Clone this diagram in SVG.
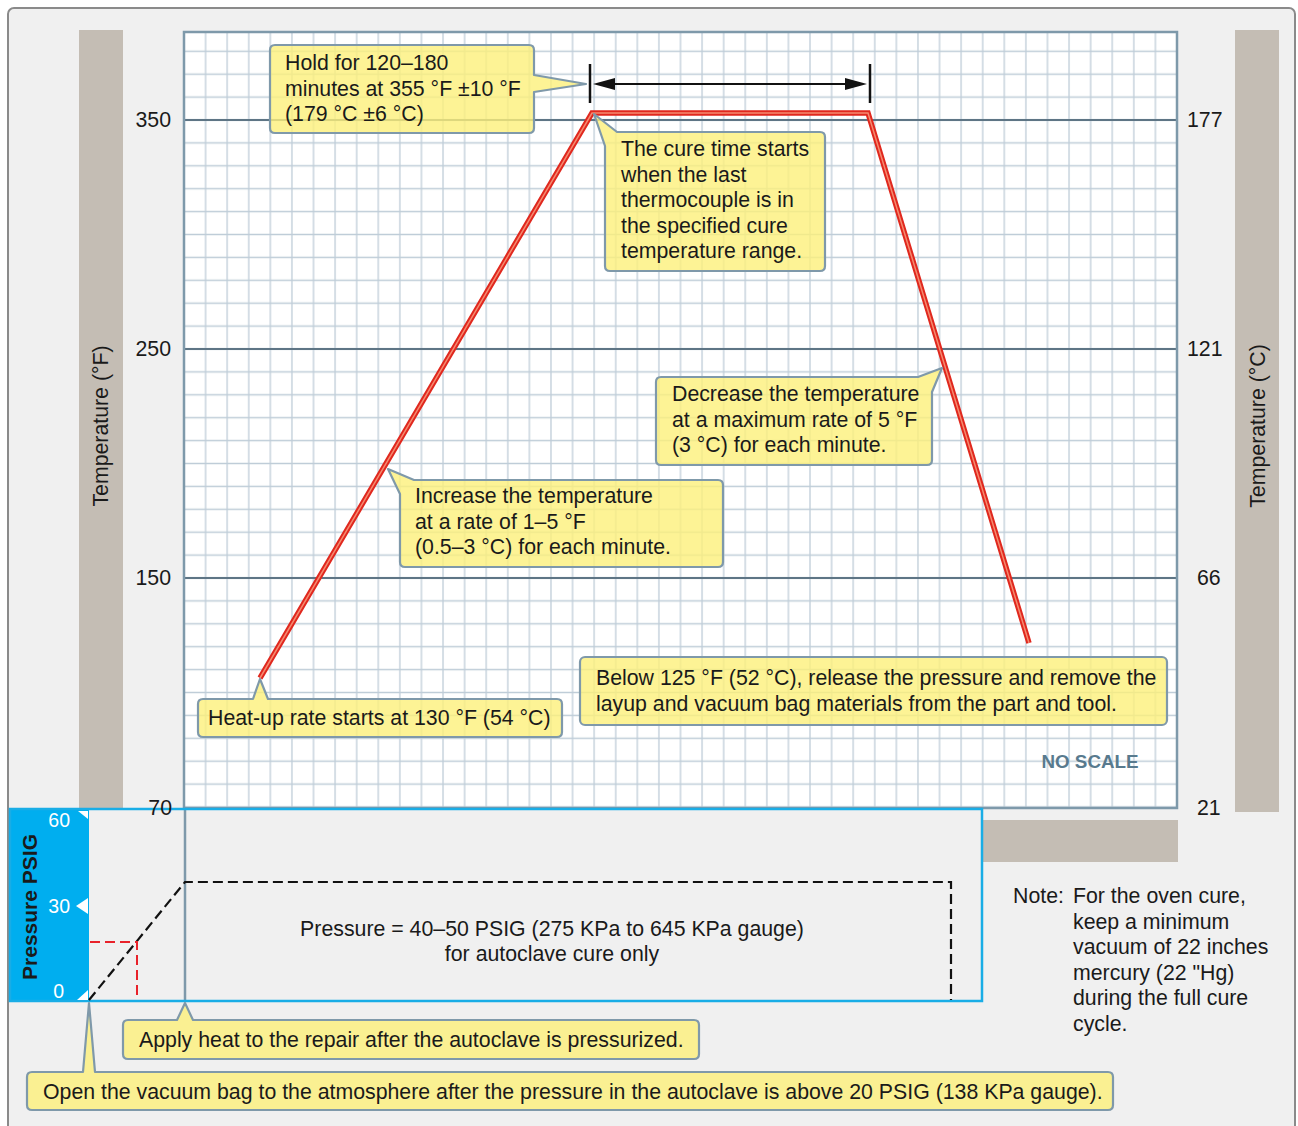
<svg xmlns="http://www.w3.org/2000/svg" width="1298" height="1126" viewBox="0 0 1298 1126">
<style>
text{font-family:"Liberation Sans",Arial,sans-serif;fill:#1a1a1a}
.lbl{font-size:21.3px}
.ct{font-size:21.3px}
.call{fill:#fdf07a;fill-opacity:0.8;stroke:#7f99aa;stroke-width:2.2;stroke-linejoin:round}
.major{stroke:#5e7585;stroke-width:2.2}
.pw{fill:#fff}
</style>
<defs>
<pattern id="grid" patternUnits="userSpaceOnUse" x="173.2065" y="16.95" width="21.587" height="22.9">
<path d="M10.79 0V22.9M0 11.45H21.587" stroke="#bfcdd8" stroke-width="1.3" fill="none"/>
</pattern>
</defs>
<rect x="0" y="0" width="1298" height="1126" fill="#fff"/>
<rect x="8" y="8" width="1287" height="1125" rx="6" fill="#f0f0f0" stroke="#8a8a8a" stroke-width="2"/>

<g id="left-axis">
<rect x="79" y="30" width="44" height="779" fill="#c4bdb4"/>
<text class="lbl" transform="translate(108 426) rotate(-90)" text-anchor="middle">Temperature (°F)</text>
<text class="lbl" x="171" y="127" text-anchor="end">350</text>
<text class="lbl" x="171" y="356" text-anchor="end">250</text>
<text class="lbl" x="171" y="585" text-anchor="end">150</text>
</g>
<g id="right-axis">
<rect x="1235" y="30" width="44" height="782" fill="#c4bdb4"/>
<text class="lbl" transform="translate(1265 426) rotate(-90)" text-anchor="middle">Temperature (°C)</text>
<text class="lbl" x="1187" y="127">177</text>
<text class="lbl" x="1187" y="356">121</text>
<text class="lbl" x="1197" y="585">66</text>
<text class="lbl" x="1197" y="815">21</text>
</g>

<g id="plot">
<rect x="184" y="32" width="993" height="776" fill="#fff"/>
<rect x="184" y="32" width="993" height="776" fill="url(#grid)"/>
<line class="major" x1="184" y1="120" x2="1177" y2="120"/>
<line class="major" x1="184" y1="349" x2="1177" y2="349"/>
<line class="major" x1="184" y1="578" x2="1177" y2="578"/>
<rect x="184" y="32" width="993" height="776" fill="none" stroke="#7e99aa" stroke-width="2.5"/>
<text x="1090" y="768" text-anchor="middle" style="font-size:18.8px;font-weight:bold;fill:#587a8e">NO SCALE</text>
</g>

<g id="time-band">
<rect x="186" y="820" width="992" height="42" fill="#c4bdb4"/>
<rect x="186" y="820" width="796" height="41" fill="#e1e0dc"/>
<text class="lbl" x="600" y="848">Time</text>
<line x1="660" y1="841" x2="755" y2="841" stroke="#111" stroke-width="2.5"/>
<polygon points="773,841 750,835 750,847" fill="#111"/>
</g>

<g id="cure-curve">
<polyline points="260,678 592,113 868,113 1029,643" fill="none" stroke="#e0281e" stroke-width="5.5" stroke-linejoin="miter"/>
<polyline points="260,678 592,113 868,113 1029,643" fill="none" stroke="#f58a70" stroke-width="1.5"/>
</g>

<g id="hold-dimension">
<line x1="590" y1="64" x2="590" y2="103" stroke="#111" stroke-width="2.5"/>
<line x1="870" y1="64" x2="870" y2="103" stroke="#111" stroke-width="2.5"/>
<line x1="600" y1="84" x2="860" y2="84" stroke="#111" stroke-width="2"/>
<polygon points="593,84 615,78 615,90" fill="#111"/>
<polygon points="867,84 845,78 845,90" fill="#111"/>
</g>

<g id="pressure-panel">
<rect x="10" y="809" width="972" height="192" fill="#f0f0f0"/>
<rect x="10" y="809" width="79" height="192" fill="#00aeef"/>
<line x1="185" y1="808" x2="185" y2="1002" stroke="#7e99aa" stroke-width="2.5"/>
<rect x="10" y="809" width="972" height="192" fill="none" stroke="#19ade6" stroke-width="2.5"/>
<text transform="translate(37 907) rotate(-90)" text-anchor="middle" style="font-size:21px;font-weight:bold">Pressure PSIG</text>
<text class="pw" x="70" y="827" text-anchor="end" style="font-size:19.5px">60</text>
<text class="pw" x="70" y="913" text-anchor="end" style="font-size:19.5px">30</text>
<text class="pw" x="64" y="998" text-anchor="end" style="font-size:19.5px">0</text>
<polygon class="pw" points="78,811 88,811 88,819"/>
<polygon class="pw" points="76,906 88,898 88,914"/>
<polygon class="pw" points="77,1000 88,990 88,1000"/>
<path d="M89,1000 L185,882 H951 V1000" fill="none" stroke="#111" stroke-width="2.2" stroke-dasharray="10 5"/>
<path d="M90,942 H137 V1000" fill="none" stroke="#e8222a" stroke-width="2" stroke-dasharray="10 5"/>
<text class="ct" x="552" y="936" text-anchor="middle">Pressure = 40–50 PSIG (275 KPa to 645 KPa gauge)</text>
<text class="ct" x="552" y="961" text-anchor="middle">for autoclave cure only</text>
<text class="lbl" x="172" y="815" text-anchor="end">70</text>
</g>

<g id="callout-hold">
<path class="call" d="M275,45 H529 Q534,45 534,50 V75 L586,84 L534,92 V128 Q534,133 529,133 H275 Q270,133 270,128 V50 Q270,45 275,45 Z"/>
<text class="ct" x="285" y="70">Hold for 120–180</text>
<text class="ct" x="285" y="96">minutes at 355 °F ±10 °F</text>
<text class="ct" x="285" y="121">(179 °C ±6 °C)</text>
</g>

<g id="callout-cure-start">
<path class="call" d="M594,114 L617,132 H820 Q825,132 825,137 V266 Q825,271 820,271 H610 Q605,271 605,266 V146 Z"/>
<text class="ct" x="621" y="156">The cure time starts</text>
<text class="ct" x="621" y="182">when the last</text>
<text class="ct" x="621" y="207">thermocouple is in</text>
<text class="ct" x="621" y="233">the specified cure</text>
<text class="ct" x="621" y="258">temperature range.</text>
</g>

<g id="callout-decrease">
<path class="call" d="M942,368 L932,392 V460 Q932,465 927,465 H661 Q656,465 656,460 V382 Q656,377 661,377 H918 Z"/>
<text class="ct" x="672" y="401">Decrease the temperature</text>
<text class="ct" x="672" y="427">at a maximum rate of 5 °F</text>
<text class="ct" x="672" y="452">(3 °C) for each minute.</text>
</g>

<g id="callout-increase">
<path class="call" d="M388,469 L414,480 H718 Q723,480 723,485 V562 Q723,567 718,567 H405 Q400,567 400,562 V494 Z"/>
<text class="ct" x="415" y="503">Increase the temperature</text>
<text class="ct" x="415" y="529">at a rate of 1–5 °F</text>
<text class="ct" x="415" y="554">(0.5–3 °C) for each minute.</text>
</g>

<g id="callout-heatup">
<path class="call" d="M203,699 H253 L260,679 L268,699 H557 Q562,699 562,704 V732 Q562,737 557,737 H203 Q198,737 198,732 V704 Q198,699 203,699 Z"/>
<text class="ct" x="208" y="725">Heat-up rate starts at 130 °F (54 °C)</text>
</g>

<g id="callout-release">
<rect class="call" x="580" y="657" width="587" height="68" rx="5"/>
<text class="ct" x="596" y="685">Below 125 °F (52 °C), release the pressure and remove the</text>
<text class="ct" x="596" y="711">layup and vacuum bag materials from the part and tool.</text>
</g>

<g id="callout-apply-heat">
<path class="call" d="M128,1020 H177 L185,1003 L193,1020 H694 Q699,1020 699,1025 V1054 Q699,1059 694,1059 H128 Q123,1059 123,1054 V1025 Q123,1020 128,1020 Z"/>
<text class="ct" x="139" y="1047">Apply heat to the repair after the autoclave is pressurized.</text>
</g>

<g id="callout-vacuum">
<path class="call" d="M32,1072 H83 L89,1003 L95,1072 H1108 Q1113,1072 1113,1077 V1105 Q1113,1110 1108,1110 H32 Q27,1110 27,1105 V1077 Q27,1072 32,1072 Z"/>
<text class="ct" x="43" y="1099">Open the vacuum bag to the atmosphere after the pressure in the autoclave is above 20 PSIG (138 KPa gauge).</text>
</g>

<g id="note">
<text class="ct" x="1013" y="903">Note:</text>
<text class="ct" x="1073" y="903">For the oven cure,</text>
<text class="ct" x="1073" y="929">keep a minimum</text>
<text class="ct" x="1073" y="954">vacuum of 22 inches</text>
<text class="ct" x="1073" y="980">mercury (22 "Hg)</text>
<text class="ct" x="1073" y="1005">during the full cure</text>
<text class="ct" x="1073" y="1031">cycle.</text>
</g>
</svg>
